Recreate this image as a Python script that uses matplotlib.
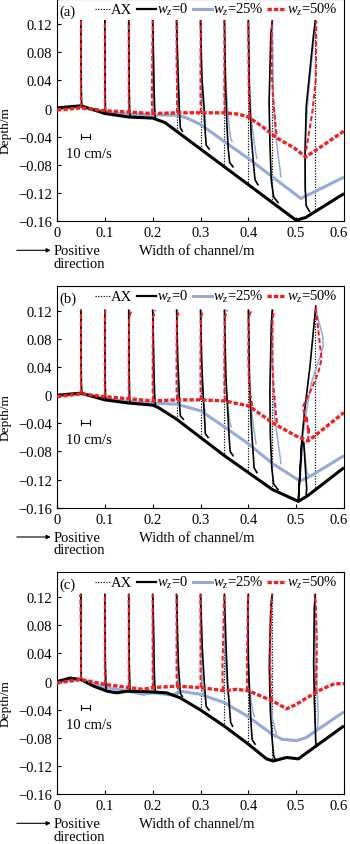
import numpy as np
import matplotlib
matplotlib.use('Agg')
import matplotlib.pyplot as plt
from matplotlib.transforms import ScaledTranslation

plt.rcParams['font.family'] = ['Liberation Serif', 'DejaVu Serif']
plt.rcParams['mathtext.fontset'] = 'custom'
plt.rcParams['mathtext.rm'] = 'Liberation Serif'
plt.rcParams['mathtext.it'] = 'Liberation Serif:italic'

# ---------------- data ----------------
PANEL_LABELS = ['(a)', '(b)', '(c)']
LEGEND_LABELS = ['AX', r'$w_z$=0', r'$w_z$=25%', r'$w_z$=50%']
XTICKS = [0, 0.1, 0.2, 0.3, 0.4, 0.5, 0.6]
XTICK_LABELS = ['0', '0.1', '0.2', '0.3', '0.4', '0.5', '0.6']
YTICKS = [0.12, 0.08, 0.04, 0, -0.04, -0.08, -0.12, -0.16]
YTICK_LABELS = ['0.12', '0.08', '0.04', '0', '\u22120.04', '\u22120.08', '\u22120.12', '\u22120.16']

STATIONS = [0.05, 0.10, 0.15, 0.20, 0.25, 0.30, 0.35, 0.40, 0.45, 0.54]
ETA = [0.0, 0.03, 0.12, 0.30, 0.55, 0.92, 1.0]      # relative height above bed
SURFACE = [0.125, 0.121, 0.124]                       # top of profiles (m)
SCALE_BAR_CMS = 10

# bed profiles (x in m, depth in m)
A_W0_X = [0, 0.05, 0.1, 0.15, 0.2, 0.226, 0.5, 0.52, 0.6]
A_W0_Z = [0.001, 0.004, -0.007, -0.012, -0.0135, -0.02, -0.159, -0.155, -0.121]
A_W25_X = [0, 0.05, 0.1, 0.15, 0.2, 0.25, 0.27, 0.3, 0.35, 0.4, 0.45, 0.51, 0.6]
A_W25_Z = [0, 0.003, -0.005, -0.008, -0.009, -0.0095, -0.013, -0.0225, -0.047, -0.071, -0.097, -0.128, -0.0976]
A_W50_X = [0, 0.05, 0.1, 0.15, 0.2, 0.25, 0.3, 0.35, 0.38, 0.4, 0.43, 0.46, 0.496, 0.52, 0.6]
A_W50_Z = [-0.002, 0.001, -0.003, -0.005, -0.007, -0.006, -0.006, -0.006, -0.008, -0.012, -0.026, -0.042, -0.056, -0.069, -0.032]

B_W0_X = [0, 0.05, 0.1, 0.15, 0.2, 0.212, 0.25, 0.3, 0.35, 0.4, 0.45, 0.466, 0.5045, 0.524, 0.6]
B_W0_Z = [0, 0.003, -0.0065, -0.011, -0.014, -0.0175, -0.034, -0.06, -0.086, -0.110, -0.134, -0.139, -0.151, -0.143, -0.103]
B_W25_X = [0, 0.05, 0.1, 0.15, 0.2, 0.25, 0.3, 0.35, 0.4, 0.45, 0.508, 0.53, 0.6]
B_W25_Z = [0, 0.003, -0.005, -0.009, -0.011, -0.0127, -0.022, -0.045, -0.069, -0.097, -0.122, -0.115, -0.086]
B_W50_X = [0, 0.05, 0.1, 0.15, 0.2, 0.25, 0.3, 0.35, 0.4, 0.43, 0.45, 0.5, 0.525, 0.54, 0.6]
B_W50_Z = [-0.002, 0.002, -0.002, -0.005, -0.008, -0.0065, -0.0065, -0.008, -0.015, -0.029, -0.039, -0.058, -0.065, -0.057, -0.0245]

C_W0_X = [0, 0.027, 0.05, 0.077, 0.105, 0.125, 0.146, 0.18, 0.229, 0.257, 0.299, 0.349, 0.4, 0.438, 0.452, 0.48, 0.5045, 0.6]
C_W0_Z = [0, 0.005, 0.003, -0.0066, -0.0137, -0.016, -0.0137, -0.014, -0.016, -0.023, -0.040, -0.063, -0.089, -0.11, -0.113, -0.108, -0.11, -0.063]
C_W25_X = [0, 0.05, 0.1, 0.15, 0.18, 0.2, 0.24, 0.26, 0.3, 0.35, 0.4, 0.45, 0.47, 0.5, 0.52, 0.6]
C_W25_Z = [0, 0.003, -0.008, -0.014, -0.018, -0.016, -0.019, -0.014, -0.018, -0.030, -0.050, -0.075, -0.082, -0.084, -0.080, -0.043]
C_W50_X = [0, 0.05, 0.1, 0.15, 0.18, 0.2, 0.25, 0.3, 0.35, 0.375, 0.4, 0.452, 0.48, 0.5, 0.52, 0.553, 0.58, 0.6]
C_W50_Z = [-0.002, 0.003, -0.004, -0.0085, -0.011, -0.0085, -0.0066, -0.0085, -0.013, -0.011, -0.013, -0.028, -0.0387, -0.0326, -0.024, -0.011, -0.003, -0.003]

# transverse velocity (cm/s) at relative heights ETA for each station
A_W0_U = [[1, 0.8, 0.5, 0.3, 0.1, 0, 0], [1, 0.8, 0.5, 0.3, 0.2, 0, 0], [1.5, 1.2, 0.8, 0.5, 0.3, 0, 0],
          [3, 2.5, 2, 1.5, 1, 0.2, 0], [6, 4, 3.3, 2.5, 1.5, 0.2, 0], [9, 6, 5, 4, 1.5, 0.2, 0],
          [9, 5.5, 4, 2.5, 1.2, 0.2, 0], [10, 7, 5.5, 3, 1.2, 0.2, 0], [6, 1.5, -1, -2.3, -3.3, -1.5, 0],
          [-6, -9.5, -10.5, -10.7, -9.5, -2, 0]]
A_W25_U = [[0.5, 0.3, 0.2, 0.1, 0, 0, 0], [0.5, 0.3, 0.2, 0.1, 0, 0, 0], [0.5, 0.3, 0.2, 0.1, 0, 0, 0],
           [1, 0.8, 0.5, 0.3, 0.2, 0, 0], [3, 2.5, 2, 1, 0.5, 0, 0], [4, 3.5, 3, 2, 1, 0.2, 0],
           [8, 6.5, 5, 3, 1.2, 0.2, 0], [9, 8, 6, 3, 1.2, 0.2, 0], [9, 8.5, 6.5, 3, 1, 0.2, 0],
           [-10.5, -10.7, -10.7, -10.5, -7.5, -1, 0]]
A_W50_U = [[0.3, 0.2, 0, 0, 0, 0, 0], [0.3, 0.2, 0, 0, 0, 0, 0], [0.3, 0.2, 0, 0, 0, 0, 0],
           [-0.5, -0.5, -0.8, -0.8, -0.5, 0, 0], [0.5, 0.5, 0.5, 0.5, 0, 0, 0], [0.3, 0.3, 0, 0, 0, 0.3, 0.5],
           [0.3, 0.3, 0, 0, 0, 0, 0], [1.5, 1.2, 1, 0.5, 0.2, 0, 0], [4.5, 4, 3, 1, -0.5, -0.5, 0],
           [-9.7, -9, -7, -3, 0.5, 1, 1]]

B_W0_U = [[1, 0.8, 0.5, 0.3, 0.1, 0, 0], [1, 0.8, 0.5, 0.3, 0.1, 0, 0], [1.5, 1, 0.8, 0.5, 0.3, 0, 0],
          [3, 2.5, 2, 1.5, 1, 0.3, 0], [7, 4, 3.2, 2.5, 1.2, 0.2, 0], [8, 5, 4.5, 3, 1.5, 0.2, 0],
          [9, 6, 5, 3.5, 1.5, 0.3, 0], [9, 6, 5, 3, 1.3, 0.3, 0], [6, 1.5, -0.5, -2, -2.5, -1, 0], None]
B_W25_U = [[0.5, 0.3, 0.2, 0.1, 0, 0, 0], [0.5, 0.3, 0.2, 0.1, 0, 0, 0], [0.5, 0.3, 0.2, 0.1, 0, 0, 0],
           [1, 0.8, 0.5, 0.3, 0.2, 0, 0], [3, 2.5, 2, 1, 0.5, 0.2, 0.5], [5, 4, 3, 1.5, 0.7, 0.2, 0.5],
           [7, 6, 4.5, 2, 0.8, 0.2, 0.5], [8, 7.5, 5.5, 2.5, 0.8, 0.2, 0.5], [9, 8.5, 6.5, 2.5, 0.6, 0.2, 0.5], None]
B_W50_U = [[0.3, 0.2, 0, 0, 0, 0, 0], [0.3, 0.2, 0, 0, 0, 0, 0.5], [0.3, 0.2, 0, 0, 0, 0.3, 3],
           [0.3, 0.2, 0, 0, 0, 0.3, 3], [0.5, 0.3, 0, 0, 0, 0.3, 3], [0.5, 0.3, 0, 0, 0, 0.3, 3],
           [0.5, 0.3, 0, 0, 0, 0.3, 3], [4, 3.5, 2, 0.5, 0, 0.3, 3], [5, 4.5, 3.5, 1.5, 0, 0.2, 2], None]

# panel (b), station 0.54: irregular profiles given as (depth, velocity) pairs
B_W0_SPECIAL_Z = [0.127, 0.042, -0.02, -0.062, -0.151, -0.065, -0.068, -0.133, -0.141]
B_W0_SPECIAL_U = [0.5, -5.5, -11, -14, -17.75, -14, -12, -9, -9.5]
B_W25_SPECIAL_Z = [0.122, 0.118, 0.084, 0.070, 0.047, 0.018, -0.02, -0.053, -0.072, -0.122, -0.06, -0.11, -0.115]
B_W25_SPECIAL_U = [0.5, 1.25, 7.75, 8.35, 3, -4, -9, -12.5, -14.25, -16, -12.5, -9, -5.5]
B_W50_SPECIAL_Z = [0.124, 0.10, 0.07, 0.051, 0.032, 0.009, -0.015, -0.039, -0.029, -0.053, -0.045, -0.063]
B_W50_SPECIAL_U = [0.5, 2.5, 5, 6.5, 3, -4, -12.5, -11, -9, -7.5, -6.5, -7.5]

C_W0_U = [[0.5, 0.3, 0.2, 0.1, 0, 0, 0], [1.5, 1.2, 1, 0.5, 0.3, 0, 0], [1.5, 1.2, 1, 0.5, 0.3, 0, 0],
          [3, 2.5, 2, 1.5, 1.2, 0.3, 0], [6, 4, 3.3, 2, 1.2, 0.2, 0], [9, 6, 5, 3.5, 1.8, 0.3, 0],
          [8.5, 6.5, 5.5, 3.5, 2, 0.3, 0], [7, 4, 3, 1.5, 0, -0.5, 0], [3.5, 1.5, 0, -2, -3, -1.5, 0],
          [1, 0.5, 0, -1, -1.7, -1, 0]]
C_W25_U = [[0.5, 0.3, 0.2, 0.1, 0, 0, 0], [0.5, 0.3, 0.2, 0.1, 0, 0, 0], [0.5, 0.3, 0.2, 0.1, 0, 0, 0],
           [0.5, 0.3, 0.2, 0.1, 0, 0, 0], [3, 2.5, 1.5, 0.8, 0.3, 0, 0], [3, 2.5, 2, 1, 0.5, 0, 0],
           [6, 5, 3.5, 1.5, 0.5, 0, 0], [6.5, 5, 3, 0.8, 0, -1, 0], [4.5, 3, 0, -2, -3.3, -1.5, 0],
           [1.5, 2.5, 3, 2, 0.5, 0, 0]]
C_W50_U = [[0, 0, 0, 0, 0, -0.5, -1], [0.3, 0.2, 0, 0, 0, 0, 0], [0.3, 0.2, 0, 0, 0, 0, 0],
           [0.3, 0.2, 0, 0, 0, 0, 0], [0.3, 0.2, 0, 0, 0, 0, 0], [0.3, 0.2, 0, 0, 0, 0, 0],
           [-1, -1.5, -2, -2, -1.2, -0.5, 0], [-1, -1.5, -1.5, -1.5, -1, -0.3, 0], [0, -0.5, -1.5, -2, -2, -1, 0],
           [0, 0.5, 1, 1.5, 1.5, 0.5, -1]]

SCALE = 0.002   # m of plot width per cm/s

# ---------------- styles ----------------
BLUE = '#93aadb'
RED = '#f21f1f'
BED_STYLE = {
    'w0': dict(color='black', lw=2.2, zorder=3),
    'w25': dict(color=BLUE, lw=2.2, zorder=2),
    'w50': dict(color=RED, lw=2.4, ls=(0, (1.3, 0.6)), zorder=4),
}
PROF_STYLE = {
    'w0': dict(color='black', lw=1.2, zorder=3),
    'w25': dict(color=BLUE, lw=1.1, zorder=2),
    'w50': dict(color=RED, lw=1.5, ls=(0, (2.4, 1.2)), zorder=4),
}
AX_STYLE = dict(color='black', lw=0.85, ls=(0, (1.0, 1.3)), zorder=1.5)

FS = 10.5

panels = [
    dict(beds={'w0': (A_W0_X, A_W0_Z), 'w25': (A_W25_X, A_W25_Z), 'w50': (A_W50_X, A_W50_Z)},
         u={'w0': A_W0_U, 'w25': A_W25_U, 'w50': A_W50_U}, special={}, bar_y=-0.040),
    dict(beds={'w0': (B_W0_X, B_W0_Z), 'w25': (B_W25_X, B_W25_Z), 'w50': (B_W50_X, B_W50_Z)},
         u={'w0': B_W0_U, 'w25': B_W25_U, 'w50': B_W50_U},
         special={'w0': (B_W0_SPECIAL_Z, B_W0_SPECIAL_U), 'w25': (B_W25_SPECIAL_Z, B_W25_SPECIAL_U),
                  'w50': (B_W50_SPECIAL_Z, B_W50_SPECIAL_U)}, bar_y=-0.039),
    dict(beds={'w0': (C_W0_X, C_W0_Z), 'w25': (C_W25_X, C_W25_Z), 'w50': (C_W50_X, C_W50_Z)},
         u={'w0': C_W0_U, 'w25': C_W25_U, 'w50': C_W50_U}, special={}, bar_y=-0.037),
]

fig = plt.figure(figsize=(3.5, 8.45), dpi=100)
bottoms = [1 - 222 / 845, 1 - 508.7 / 845, 1 - 795 / 845]
ax_left, ax_w, ax_h = 57 / 350, 287 / 350, 222 / 845

eta = np.array(ETA)
for pi, p in enumerate(panels):
    ax = fig.add_axes([ax_left, bottoms[pi], ax_w, ax_h])
    ztop = SURFACE[pi]
    # beds
    for case in ['w25', 'w0', 'w50']:
        bx, bz = p['beds'][case]
        ax.plot(bx, bz, solid_capstyle='butt', **BED_STYLE[case])
    # AX reference lines
    bx0, bz0 = p['beds']['w0']
    for st in STATIONS:
        zb = np.interp(st, bx0, bz0)
        ax.plot([st, st], [zb, ztop], **AX_STYLE)
    # velocity profiles
    for case in ['w25', 'w0', 'w50']:
        bx, bz = p['beds'][case]
        for st, row in zip(STATIONS, p['u'][case]):
            if row is None:
                zs, us = p['special'][case]
                z = np.array(zs)
                x = st + np.array(us) * SCALE
            else:
                zb = np.interp(st, bx, bz)
                z = zb + eta * (ztop - zb)
                x = st + np.array(row) * SCALE
            ax.plot(x, z, **PROF_STYLE[case])
    # scale bar
    by = p['bar_y']
    x0, x1 = 0.05, 0.05 + SCALE_BAR_CMS * SCALE
    ax.plot([x0, x1], [by, by], color='black', lw=0.8)
    ax.plot([x0, x0], [by - 0.0035, by + 0.0035], color='black', lw=0.8)
    ax.plot([x1, x1], [by - 0.0035, by + 0.0035], color='black', lw=0.8)
    ax.text(0.067, by - 0.024, f'{SCALE_BAR_CMS} cm/s', ha='center', va='center', fontsize=FS)

    ax.set_xlim(0, 0.6)
    ax.set_ylim(-0.16, 0.156)
    ax.set_xticks(XTICKS)
    ax.set_xticklabels(XTICK_LABELS)
    ax.set_yticks(YTICKS)
    ax.set_yticklabels(YTICK_LABELS)
    ax.tick_params(direction='in', length=3, width=0.8, labelsize=FS, pad=3.5)
    last = ax.get_xticklabels()[-1]
    last.set_transform(last.get_transform() + ScaledTranslation(-5 / 100, 0, fig.dpi_scale_trans))
    for s in ax.spines.values():
        s.set_linewidth(0.8)
    ax.set_ylabel('Depth/m', fontsize=9.6)
    ax.yaxis.set_label_coords(-0.157, 0.41)

    # legend (manual)
    ly = 0.953
    ax.text(0.008, ly - 0.008, PANEL_LABELS[pi], transform=ax.transAxes, fontsize=FS, va='center', ha='left')
    leg_pos = [(0.132, 0.185, 0.188), (0.279, 0.345, 0.348), (0.474, 0.540, 0.544), (0.732, 0.798, 0.801)]
    leg_styles = [AX_STYLE, BED_STYLE['w0'], BED_STYLE['w25'], BED_STYLE['w50']]
    for (a0, a1, tx), st_, lab in zip(leg_pos, leg_styles, LEGEND_LABELS):
        kw = dict(st_)
        kw.pop('zorder', None)
        if st_ is BED_STYLE['w0']:
            kw['lw'] = 1.6
        ax.plot([a0, a1], [ly, ly], transform=ax.transAxes, zorder=6, **kw)
        ax.text(tx, ly, lab, transform=ax.transAxes, fontsize=FS, va='center', ha='left')

    # x label and positive-direction note
    ax.text(0.487, -0.132, 'Width of channel/m', transform=ax.transAxes, fontsize=FS,
            ha='center', va='center')
    ax.annotate('', xy=(-0.022, -0.132), xytext=(-0.14, -0.132), xycoords='axes fraction',
                arrowprops=dict(arrowstyle='-|>', color='black', lw=0.8, mutation_scale=6,
                                shrinkA=0, shrinkB=0), annotation_clip=False)
    ax.text(-0.012, -0.132, 'Positive', transform=ax.transAxes, fontsize=FS, ha='left', va='center')
    ax.text(-0.012, -0.19, 'direction', transform=ax.transAxes, fontsize=FS, ha='left', va='center')

fig.savefig('out.png', dpi=100)
